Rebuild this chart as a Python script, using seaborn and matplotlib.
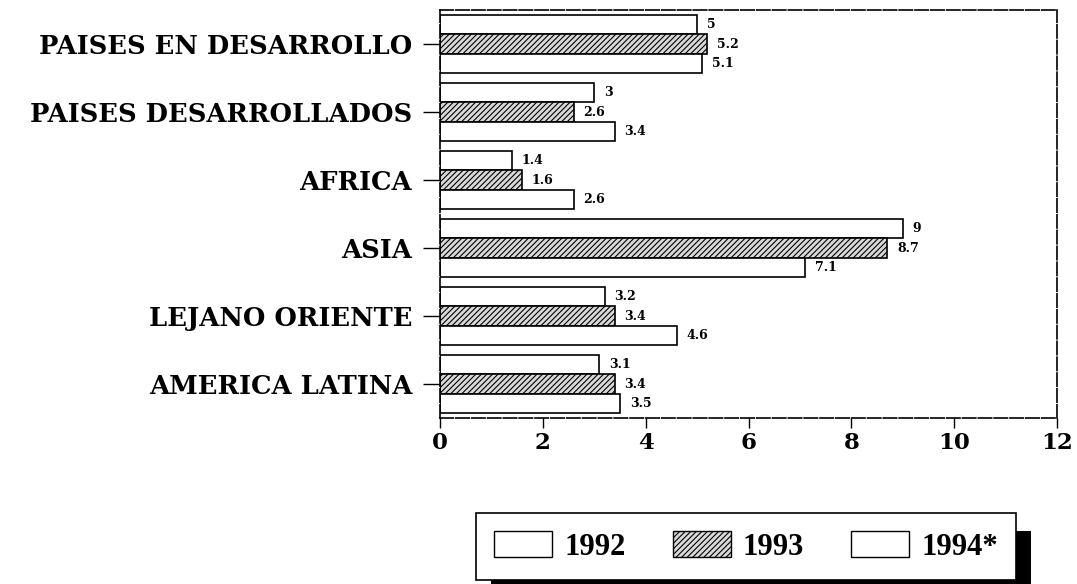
import matplotlib
matplotlib.use("Agg")
import matplotlib.pyplot as plt
import matplotlib.patches as mpatches
import seaborn as sns
import pandas as pd

regions = ["PAISES EN DESARROLLO", "PAISES DESARROLLADOS", "AFRICA", "ASIA",
           "LEJANO ORIENTE", "AMERICA LATINA"]
years = ["1992", "1993", "1994*"]
v1992 = [5, 3, 1.4, 9, 3.2, 3.1]
v1993 = [5.2, 2.6, 1.6, 8.7, 3.4, 3.4]
v1994 = [5.1, 3.4, 2.6, 7.1, 4.6, 3.5]
xticks = [0, 2, 4, 6, 8, 10, 12]

rows = []
for yr, vals in zip(years, [v1992, v1993, v1994]):
    for r, v in zip(regions, vals):
        rows.append({"region": r, "year": yr, "value": v})
df = pd.DataFrame(rows)

sns.set_style("white")
plt.rcParams['font.family'] = ['DejaVu Serif', 'Liberation Serif']
plt.rcParams['font.weight'] = 'bold'
plt.rcParams['text.color'] = 'black'
plt.rcParams['xtick.color'] = 'black'
plt.rcParams['ytick.color'] = 'black'
plt.rcParams['hatch.linewidth'] = 0.8

fig = plt.figure(figsize=(10.77, 5.84), dpi=100)
ax = fig.add_axes([440/1077, 1-418/584, (1057-440)/1077, (418-10)/584])

sns.barplot(data=df, y="region", x="value", hue="year", orient="h",
            palette=["white", "#d9d9d9", "white"], edgecolor="black",
            linewidth=1.2, width=0.84, ax=ax, legend=False, saturation=1)

hatch_map = {"1992": "", "1993": "//////", "1994*": ""}
for cont, yr in zip(ax.containers, years):
    for p in cont:
        p.set_hatch(hatch_map[yr])
    ax.bar_label(cont, labels=[f"{v:g}" for v in cont.datavalues], padding=7,
                 fontsize=9, fontweight='bold', color='black')

ax.set_xlim(0, 12)
ax.set_xticks(xticks)
ax.set_xticklabels([str(t) for t in xticks], fontsize=16.5, fontweight='bold')
ax.set_xlabel("")
ax.set_ylabel("")
ax.tick_params(axis='y', labelsize=18.5, length=12, width=1, direction='out', left=True, pad=8)
ax.tick_params(axis='x', length=7, width=1, direction='out', bottom=True, pad=3)
for lbl in ax.get_yticklabels():
    lbl.set_fontweight('bold')
for s in ax.spines.values():
    s.set_visible(True)
    s.set_color('black')
    s.set_linewidth(1.2)
    s.set_linestyle((0, (8, 1.5)))

handles = [
    mpatches.Patch(facecolor="white", edgecolor="black", linewidth=1),
    mpatches.Patch(facecolor="#d9d9d9", edgecolor="black", linewidth=1, hatch="//////"),
    mpatches.Patch(facecolor="white", edgecolor="black", linewidth=1),
]
leg = fig.legend(handles, years, loc="center", ncol=3, mode="expand",
                 bbox_to_anchor=(476/1077, 1-577/584, 540/1077, 61/584),
                 bbox_transform=fig.transFigure, fancybox=False, frameon=True,
                 edgecolor="black", framealpha=1, borderaxespad=0,
                 prop={'family': 'Liberation Serif', 'weight': 'bold', 'size': 22},
                 handlelength=1.9, handleheight=0.9, handletextpad=0.4,
                 columnspacing=2.0, borderpad=0.6)
leg.get_frame().set_linewidth(1.2)
leg.set_zorder(5)

# shadow behind the legend box
shadow = mpatches.Rectangle((491/1077, 1-592/584), 540/1077, 61/584,
                            transform=fig.transFigure, facecolor="black",
                            edgecolor="none", zorder=4)
fig.add_artist(shadow)

fig.savefig("out.png", dpi=100)
